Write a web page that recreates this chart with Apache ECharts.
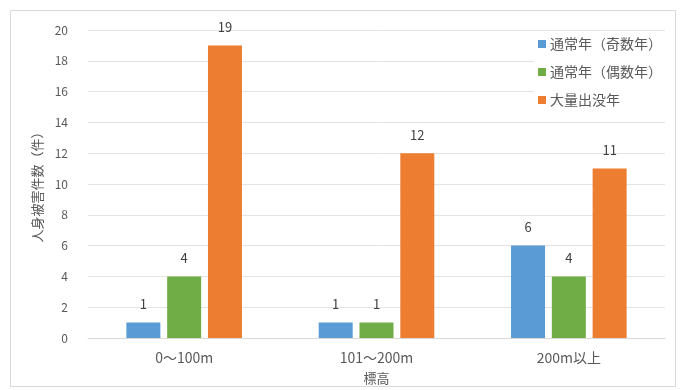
<!DOCTYPE html>
<html>
<head>
<meta charset="utf-8">
<script src="https://cdn.jsdelivr.net/npm/echarts@6/dist/echarts.min.js"></script>
<style>
  html, body { margin: 0; padding: 0; background: #fff; }
  #chart { width: 680px; height: 390px; }
</style>
</head>
<body>
<div id="chart"></div>
<script>
// Elevation bands and injury counts per year type
const categories = ['0～100m', '101～200m', '200m以上'];
const seriesNames = ['通常年（奇数年）', '通常年（偶数年）', '大量出没年'];
const oddYears = [1, 1, 6];
const evenYears = [4, 1, 4];
const outbreakYears = [19, 12, 11];
const yTicks = { min: 0, max: 20, interval: 2 };

const colors = ['#5B9BD5', '#70AD47', '#ED7D31'];
const font = '"Noto Sans CJK JP", "Noto Sans", sans-serif';

const chart = echarts.init(document.getElementById('chart'), null, { renderer: 'canvas' });

function barSeries(name, data, color) {
  return {
    name: name,
    type: 'bar',
    data: data,
    barWidth: 34,
    barGap: '20%',
    itemStyle: { color: color },
    label: {
      show: true,
      position: 'top',
      distance: 12,
      color: '#404040',
      fontSize: 13,
      fontFamily: font
    }
  };
}

chart.setOption({
  animation: false,
  backgroundColor: '#fff',
  graphic: [{
    type: 'rect',
    left: 8, top: 8,
    shape: { width: 665, height: 376 },
    style: { fill: 'none', stroke: '#d9d9d9', lineWidth: 1 },
    z: -1
  }],
  grid: { left: 88, right: 15, top: 30, bottom: 52, containLabel: false },
  legend: {
    orient: 'vertical',
    right: 12,
    top: 34,
    itemWidth: 8,
    itemHeight: 8,
    itemGap: 14,
    icon: 'rect',
    backgroundColor: '#fff',
    padding: [3, 6, 3, 4],
    textStyle: { color: '#595959', fontSize: 14, lineHeight: 14, fontFamily: font, padding: [0, 0, 0, -1] },
    data: seriesNames
  },
  xAxis: {
    type: 'category',
    data: categories,
    name: '標高',
    nameLocation: 'middle',
    nameGap: 34,
    nameTextStyle: { color: '#595959', fontSize: 13, fontFamily: font },
    axisLine: { lineStyle: { color: '#d9d9d9' } },
    axisTick: { show: false },
    axisLabel: { color: '#595959', fontSize: 14, margin: 13, fontFamily: font }
  },
  yAxis: {
    type: 'value',
    min: yTicks.min,
    max: yTicks.max,
    interval: yTicks.interval,
    name: '人身被害件数（件）',
    nameLocation: 'middle',
    nameGap: 43,
    nameRotate: 90,
    nameTextStyle: { color: '#595959', fontSize: 13, fontFamily: font },
    axisLine: { show: false },
    axisTick: { show: false },
    axisLabel: { color: '#595959', fontSize: 12, margin: 20, fontFamily: font },
    splitLine: { lineStyle: { color: '#e3e3e3' } }
  },
  series: [
    barSeries(seriesNames[0], oddYears, colors[0]),
    barSeries(seriesNames[1], evenYears, colors[1]),
    barSeries(seriesNames[2], outbreakYears, colors[2])
  ]
});
</script>
</body>
</html>
